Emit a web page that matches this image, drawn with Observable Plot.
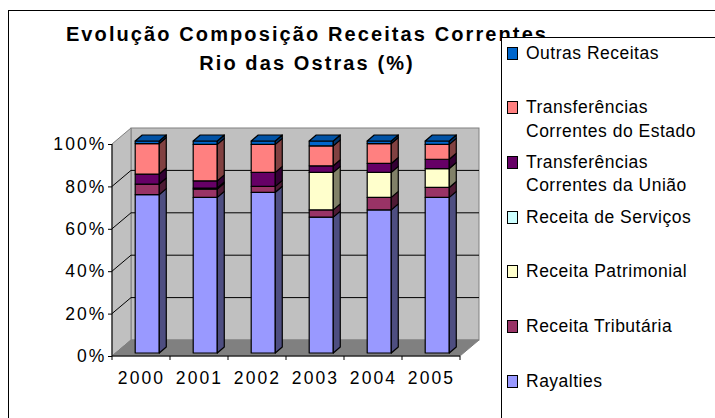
<!DOCTYPE html>
<html><head><meta charset="utf-8">
<script src="https://cdn.jsdelivr.net/npm/d3@7"></script>
<script src="https://cdn.jsdelivr.net/npm/@observablehq/plot@0.6"></script>
<style>
html,body{margin:0;padding:0;background:#fff;}
#wrap{position:relative;width:715px;height:418px;overflow:hidden;font-family:"Liberation Sans",Arial,sans-serif;color:#000;}
#border{position:absolute;left:8px;top:10px;width:800px;height:600px;border-left:1px solid #000;border-top:1px solid #000;}
#chart{position:absolute;left:0;top:0;}
#title{position:absolute;left:0;top:20px;width:614px;text-align:center;font-weight:bold;font-size:20px;line-height:28.5px;letter-spacing:2.1px;white-space:nowrap;}
#legend{position:absolute;left:501px;top:37px;width:300px;height:600px;background:#fff;border:1px solid #000;}
.item{position:absolute;left:24px;font-size:17.5px;line-height:23.5px;letter-spacing:0.5px;white-space:nowrap;}
.sw{position:absolute;left:5px;width:11px;height:13px;box-sizing:border-box;border:1.5px solid #000;}
#chart g[aria-label="y-axis tick label"] text,#chart g[aria-label="x-axis tick label"] text{letter-spacing:2.1px;}
</style>
</head><body>
<div id="wrap">
  <div id="border"></div>
  <div id="chart"></div>
  <div id="title">Evolução Composição Receitas Correntes<br>Rio das Ostras (%)</div>
  <div id="legend"></div>
</div>
<script>
// ---- data ----
const years = ["2000", "2001", "2002", "2003", "2004", "2005"];
const seriesNames = ["Rayalties", "Receita Tributária", "Receita Patrimonial", "Receita de Serviços",
  "Transferências Correntes da União", "Transferências Correntes do Estado", "Outras Receitas"];
const legendLabels = ["Rayalties", "Receita Tributária", "Receita Patrimonial", "Receita de Serviços",
  "Transferências<br>Correntes da União", "Transferências<br>Correntes do Estado", "Outras Receitas"];
const rayalties   = [74.7, 73.4, 75.8, 64.1, 67.5, 73.4];
const tributaria  = [5.0, 3.9, 2.8, 3.4, 5.9, 4.7];
const patrimonial = [0.0, 0.5, 0.0, 17.7, 11.8, 8.9];
const servicos    = [0.0, 0.0, 0.0, 0.0, 0.0, 0.0];
const uniao       = [4.7, 3.4, 6.6, 3.1, 4.2, 4.4];
const estado      = [14.4, 17.2, 13.2, 9.4, 9.4, 7.0];
const outras      = [1.2, 1.6, 1.6, 2.3, 1.2, 1.6];
const colors = ["#9999FF", "#993366", "#FFFFCC", "#CCFFFF", "#660066", "#FF8080", "#0066CC"];
const yTicks = [0, 20, 40, 60, 80, 100];

const seriesValues = [rayalties, tributaria, patrimonial, servicos, uniao, estado, outras];
const rows = [];
years.forEach((yr, i) => seriesNames.forEach((s, j) => rows.push({year: yr, series: s, value: seriesValues[j][i]})));

// ---- 3D styling constants ----
const DX = 19, DY = -16;           // wall depth
const BAR_OFF = 0.40, BAR_W = 0.415; // bar front face within band
const BDX = 7, BDY = 6;            // bar depth
const FDY = -3;                    // bar front face offset

function walls(index, scales, values, dims) {
  const L = dims.marginLeft, R = dims.width - dims.marginRight;
  const T = dims.marginTop, B = dims.height - dims.marginBottom;
  const g = d3.create("svg:g");
  g.append("rect").attr("x", L + DX).attr("y", T + DY).attr("width", R - L).attr("height", B - T)
    .attr("fill", "#c0c0c0").attr("stroke", "#808080");
  g.append("path").attr("d", `M${L},${T}L${L + DX},${T + DY}L${L + DX},${B + DY}L${L},${B}Z`)
    .attr("fill", "#c0c0c0").attr("stroke", "#808080");
  g.append("path").attr("d", `M${L},${B}L${R},${B}L${R + DX},${B + DY}L${L + DX},${B + DY}Z`)
    .attr("fill", "#808080").attr("stroke", "#808080");
  for (const i of index) {
    const v = yTicks[i];
    if (v <= 0 || v >= 100) continue;
    const y = values.y[i];
    g.append("path").attr("d", `M${L},${y}L${L + DX},${y + DY}L${R + DX},${y + DY}`)
      .attr("fill", "none").attr("stroke", "#000").attr("stroke-width", 1);
  }
  g.append("path").attr("d", `M${L},${T}L${L},${B}L${R},${B}`).attr("fill", "none").attr("stroke", "#000");
  const bw = scales.x.bandwidth();
  const bounds = years.map(y => scales.x(y)).concat([scales.x(years[years.length - 1]) + bw]);
  for (const bx of bounds) g.append("line").attr("x1", bx).attr("x2", bx).attr("y1", B).attr("y2", B + 4).attr("stroke", "#000");
  return g.node();
}

function bars3d(index, scales, values) {
  const g = d3.create("svg:g").attr("stroke", "#000").attr("stroke-width", 1.2).attr("stroke-linejoin", "round");
  const bw = scales.x.bandwidth();
  const w = bw * BAR_W;
  const topIdx = new Map();
  for (const i of index) {
    const yt = Math.min(values.y1[i], values.y2[i]);
    const k = values.x[i];
    if (Math.abs(values.y1[i] - values.y2[i]) > 0.01 && (!topIdx.has(k) || yt < topIdx.get(k).yt)) topIdx.set(k, {i, yt});
  }
  for (const i of index) {
    const h = Math.abs(values.y1[i] - values.y2[i]);
    if (h < 0.01) continue;
    const x0 = values.x[i] + bw * BAR_OFF;
    const yt = Math.min(values.y1[i], values.y2[i]) + FDY;
    const yb = Math.max(values.y1[i], values.y2[i]) + FDY;
    const c = values.fill[i];
    g.append("rect").attr("x", x0).attr("y", yt).attr("width", w).attr("height", yb - yt).attr("fill", c);
    g.append("path").attr("d", `M${x0 + w},${yt}L${x0 + w + BDX},${yt - BDY}L${x0 + w + BDX},${yb - BDY}L${x0 + w},${yb}Z`)
      .attr("fill", d3.color(c).darker(1.9).formatHex());
  }
  for (const [k, {i}] of topIdx) {
    const x0 = values.x[i] + bw * BAR_OFF;
    const yt = Math.min(values.y1[i], values.y2[i]) + FDY;
    const c = values.fill[i];
    g.append("path").attr("d", `M${x0},${yt}L${x0 + BDX},${yt - BDY}L${x0 + w + BDX},${yt - BDY}L${x0 + w},${yt}Z`)
      .attr("fill", d3.color(c).darker(0.6).formatHex());
  }
  return g.node();
}

const chart = Plot.plot({
  width: 715, height: 418,
  marginLeft: 112, marginRight: 255, marginTop: 144, marginBottom: 62,
  style: {fontFamily: "'Liberation Sans', Arial, sans-serif", fontSize: "17.5px", color: "#000", background: "transparent", overflow: "visible"},
  x: {type: "band", domain: years, padding: 0, axis: null},
  y: {domain: [0, 100], axis: null},
  color: {domain: seriesNames, range: colors},
  marks: [
    Plot.ruleY(yTicks, {y: d => d, render: walls}),
    Plot.axisY({ticks: yTicks, tickSize: 4, tickPadding: 2, tickFormat: d => d + "%", fontSize: 17.5, label: null}),
    Plot.axisX({tickSize: 0, tickPadding: 15, fontSize: 17.5, label: null}),
    Plot.barY(rows, Plot.stackY({x: "year", y: "value", fill: "series", render: bars3d}))
  ]
});
document.getElementById("chart").appendChild(chart);

// legend (top of list = top of stack)
const legend = document.getElementById("legend");
const order = seriesNames.map((s, j) => j).reverse();
order.forEach((j, k) => {
  const cy = 52 + k * 54.7 - 37;
  const it = document.createElement("div");
  it.className = "item";
  it.style.top = (cy - 17.6 + 6.1) + "px";
  it.innerHTML = legendLabels[j];
  legend.appendChild(it);
  const sw = document.createElement("div");
  sw.className = "sw";
  sw.style.top = (cy - 6.5) + "px";
  sw.style.background = colors[j];
  legend.appendChild(sw);
});
</script>
</body></html>
